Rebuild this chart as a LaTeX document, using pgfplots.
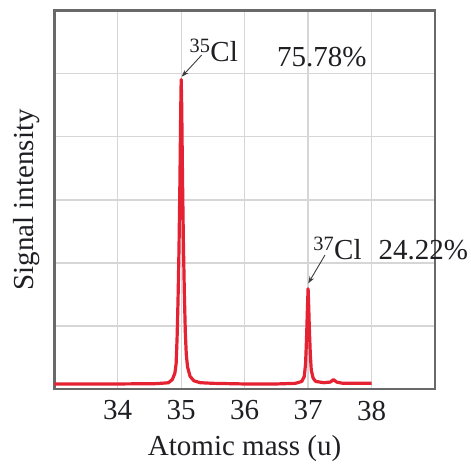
\documentclass[border=0pt]{standalone}
\usepackage{fontspec}
\setmainfont{Liberation Serif}
\usepackage{pgfplots}
\pgfplotsset{compat=1.18}
\usetikzlibrary{arrows.meta}

\definecolor{peakred}{RGB}{228,34,50}
\definecolor{gridgray}{RGB}{214,214,214}
\definecolor{framegray}{RGB}{105,105,105}
\definecolor{arrowgray}{RGB}{60,60,60}
\definecolor{txt}{RGB}{30,30,35}

\newcommand{\chartfont}{\fontsize{29}{34}\selectfont}

\begin{document}
\begin{tikzpicture}
  \useasboundingbox (-54.3pt,-75pt) rectangle (416.7pt,389pt);
  \begin{axis}[
      at={(0,0)}, anchor=south west,
      scale only axis,
      width=380.7pt, height=378.3pt,
      xmin=33, xmax=39, ymin=0, ymax=6,
      xtick={34,35,36,37,38},
      ytick={1,2,3,4,5}, yticklabels={},
      major tick length=0pt,
      grid=major,
      grid style={gridgray, line width=1.3pt},
      axis line style={framegray, line width=2.6pt},
      /pgf/number format/assume math mode=true,
      tick label style={font=\chartfont, text=txt},
      xticklabel style={anchor=center, yshift=-21.5pt},
      label style={font=\chartfont, text=txt},
      xlabel={Atomic mass (u)},
      ylabel={Signal intensity},
      xlabel style={at={(axis description cs:0.5,-0.1745)}, anchor=base},
      ylabel style={at={(axis description cs:-0.0552,0.5)}, anchor=base},
      clip=false,
    ]
    \addplot[peakred, line width=3.2pt, line join=round] coordinates {
      (33.0,0.08) (34.0,0.08) (34.6,0.085) (34.75,0.095) (34.8,0.10)
      (34.86,0.15) (34.9,0.25) (34.92,0.4) (34.935,0.8) (34.95,1.4)
      (34.965,2.2) (34.98,3.3) (34.992,4.4) (35.0,4.91) (35.008,4.5)
      (35.02,3.4) (35.035,2.3) (35.05,1.5) (35.065,0.9) (35.08,0.55)
      (35.1,0.35) (35.14,0.2) (35.2,0.13) (35.3,0.1) (35.5,0.09)
      (36.0,0.08) (36.5,0.08) (36.8,0.09) (36.9,0.12) (36.94,0.2)
      (36.96,0.4) (36.97,0.65) (36.98,0.95) (36.99,1.3) (37.0,1.59)
      (37.01,1.3) (37.02,0.95) (37.035,0.55) (37.05,0.3) (37.08,0.17)
      (37.12,0.12) (37.25,0.10) (37.35,0.11) (37.4,0.15) (37.45,0.11)
      (37.55,0.09) (38.0,0.09)
    };
    \draw[-{Stealth[length=7pt,width=5pt]}, line width=0.9pt, arrowgray]
      (axis cs:35.323,5.297) -- (axis cs:35.008,4.953);
    \draw[-{Stealth[length=7pt,width=5pt]}, line width=0.9pt, arrowgray]
      (axis cs:37.266,2.125) -- (axis cs:37.003,1.676);
    \node[anchor=base west, inner sep=0pt, font=\chartfont, text=txt]
      at (axis cs:35.13,5.20) {\textsuperscript{35}Cl};
    \node[anchor=base west, inner sep=0pt, font=\chartfont, text=txt]
      at (axis cs:36.51,5.11) {75.78\%};
    \node[anchor=base west, inner sep=0pt, font=\chartfont, text=txt]
      at (axis cs:37.08,2.06) {\textsuperscript{37}Cl};
    \node[anchor=base west, inner sep=0pt, font=\chartfont, text=txt]
      at (axis cs:38.11,2.06) {24.22\%};
  \end{axis}
\end{tikzpicture}
\end{document}
